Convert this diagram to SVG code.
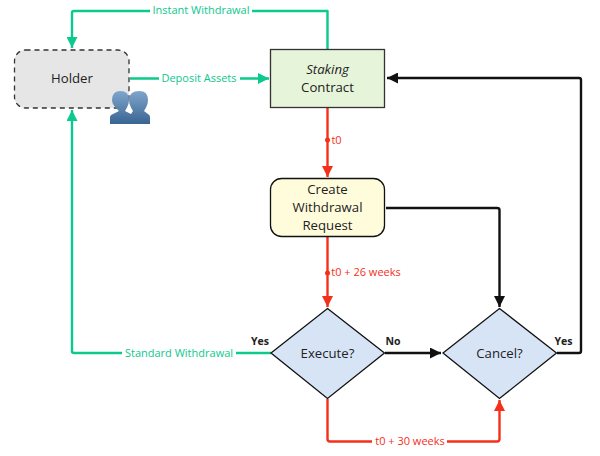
<svg xmlns="http://www.w3.org/2000/svg" width="600" height="456" viewBox="0 0 600 456">
<style>
text{font-family:"Open Sans","Noto Sans",sans-serif;text-anchor:middle}
.n{font-size:13.200px;fill:#222}
.l{font-size:11px}
.g{fill:#0cc98d}.r{fill:#f5301a}
.cg,.cr,.ck{fill:none;stroke-width:2.400;stroke-linejoin:round}
.cg{stroke:#0cc98d}.cr{stroke:#f5301a}.ck{stroke:#111}
.y{font-size:10.500px;font-weight:700;fill:#222}
.d{fill:#d7e4f6;stroke:#111;stroke-width:1.300}
</style>
<defs>
<linearGradient id="p" x1="0" y1="0" x2="0" y2="1"><stop offset="0" stop-color="#7fa6cc"/><stop offset="1" stop-color="#3a6592"/></linearGradient>
<marker id="ag" markerUnits="userSpaceOnUse" markerWidth="12" markerHeight="11" refX="10" refY="5" orient="auto" viewBox="0 0 10 10"><path d="M0 0L10 5L0 10z" fill="#0cc98d"/></marker>
<marker id="ar" markerUnits="userSpaceOnUse" markerWidth="12" markerHeight="11" refX="10" refY="5" orient="auto" viewBox="0 0 10 10"><path d="M0 0L10 5L0 10z" fill="#f5301a"/></marker>
<marker id="ak" markerUnits="userSpaceOnUse" markerWidth="12" markerHeight="11" refX="10" refY="5" orient="auto" viewBox="0 0 10 10"><path d="M0 0L10 5L0 10z" fill="#111"/></marker>
</defs>
<g id="connectors">
<path class="cg" marker-end="url(#ag)" d="M327.500 49V11H74Q72 11 72 13V48"/>
<path class="cg" marker-end="url(#ag)" d="M130 78.500H269"/>
<path class="cg" marker-end="url(#ag)" d="M271 353H74Q72 353 72 351V110"/>
<path class="cr" marker-end="url(#ar)" d="M327.500 108V177"/>
<circle class="r" cx="327.500" cy="140" r="2.500"/>
<path class="cr" marker-end="url(#ar)" d="M327.500 237V307"/>
<circle class="r" cx="327.500" cy="273" r="2.500"/>
<path class="cr" marker-end="url(#ar)" d="M327.500 399V439Q327.500 441.500 330 441.500H497Q499.500 441.500 499.500 439V400"/>
<path class="ck" marker-end="url(#ak)" d="M386 208H497Q499.500 208 499.500 210V307"/>
<path class="ck" marker-end="url(#ak)" d="M385 353H441"/>
<path class="ck" marker-end="url(#ak)" d="M557 353H579Q581 353 581 351V80Q581 78 579 78H387"/>
<rect x="150" y="3" width="102" height="16" fill="#fff"/>
<rect x="159" y="71" width="81" height="15" fill="#fff"/>
<rect x="122" y="345" width="114" height="16" fill="#fff"/>
<rect x="372" y="434" width="75" height="15" fill="#fff"/>
</g>
<g id="holder">
<rect x="14.500" y="50" width="114.500" height="58" rx="11" fill="#e6e6e6" stroke="#333" stroke-width="1.300" stroke-dasharray="5 4"/>
<text class="n" x="72" y="83">Holder</text>
<g id="holder-icon" fill="url(#p)">
<path d="M110 124V117Q110 115 113 114L119 111Q112 105 112 100Q112 91 120.500 91Q129 91 129 100Q129 105 125 111L131 114L134 124z"/>
<path d="M125 124L131 114L133 111Q129 105 129 100Q129 91 139.500 91Q148 91 148 100Q148 105 144 111L148 114Q150 115 150 117V124z"/>
</g>
</g>
<g id="staking-contract">
<rect x="270.500" y="49.500" width="114" height="58" fill="#e6f4d9" stroke="#333" stroke-width="1.300"/>
<text class="n" x="327.500" y="74" font-style="italic">Staking</text>
<text class="n" x="327.500" y="92">Contract</text>
</g>
<g id="create-request">
<rect x="270.500" y="178.500" width="114" height="58" rx="11" fill="#fffcdb" stroke="#111" stroke-width="1.300"/>
<text class="n" x="327.500" y="194">Create</text>
<text class="n" x="327.500" y="212">Withdrawal</text>
<text class="n" x="327.500" y="230">Request</text>
</g>
<g id="execute">
<path class="d" d="M327.500 308.500L384.500 353L327.500 398.500L271 353z"/>
<text class="n" x="327.500" y="357.500">Execute?</text>
</g>
<g id="cancel">
<path class="d" d="M499.500 308.500L556.500 353L499.500 398.500L443 353z"/>
<text class="n" x="499.500" y="357.500">Cancel?</text>
</g>
<g id="labels">
<text class="l g" x="201" y="14">Instant Withdrawal</text>
<text class="l g" x="199" y="82">Deposit Assets</text>
<text class="l g" x="179" y="357">Standard Withdrawal</text>
<text class="l r" x="336.500" y="144">t0</text>
<text class="l r" x="366" y="276">t0 + 26 weeks</text>
<text class="l r" x="410" y="445">t0 + 30 weeks</text>
<text class="y" x="260" y="345">Yes</text>
<text class="y" x="393" y="345">No</text>
<text class="y" x="563.500" y="345">Yes</text>
</g>
</svg>
